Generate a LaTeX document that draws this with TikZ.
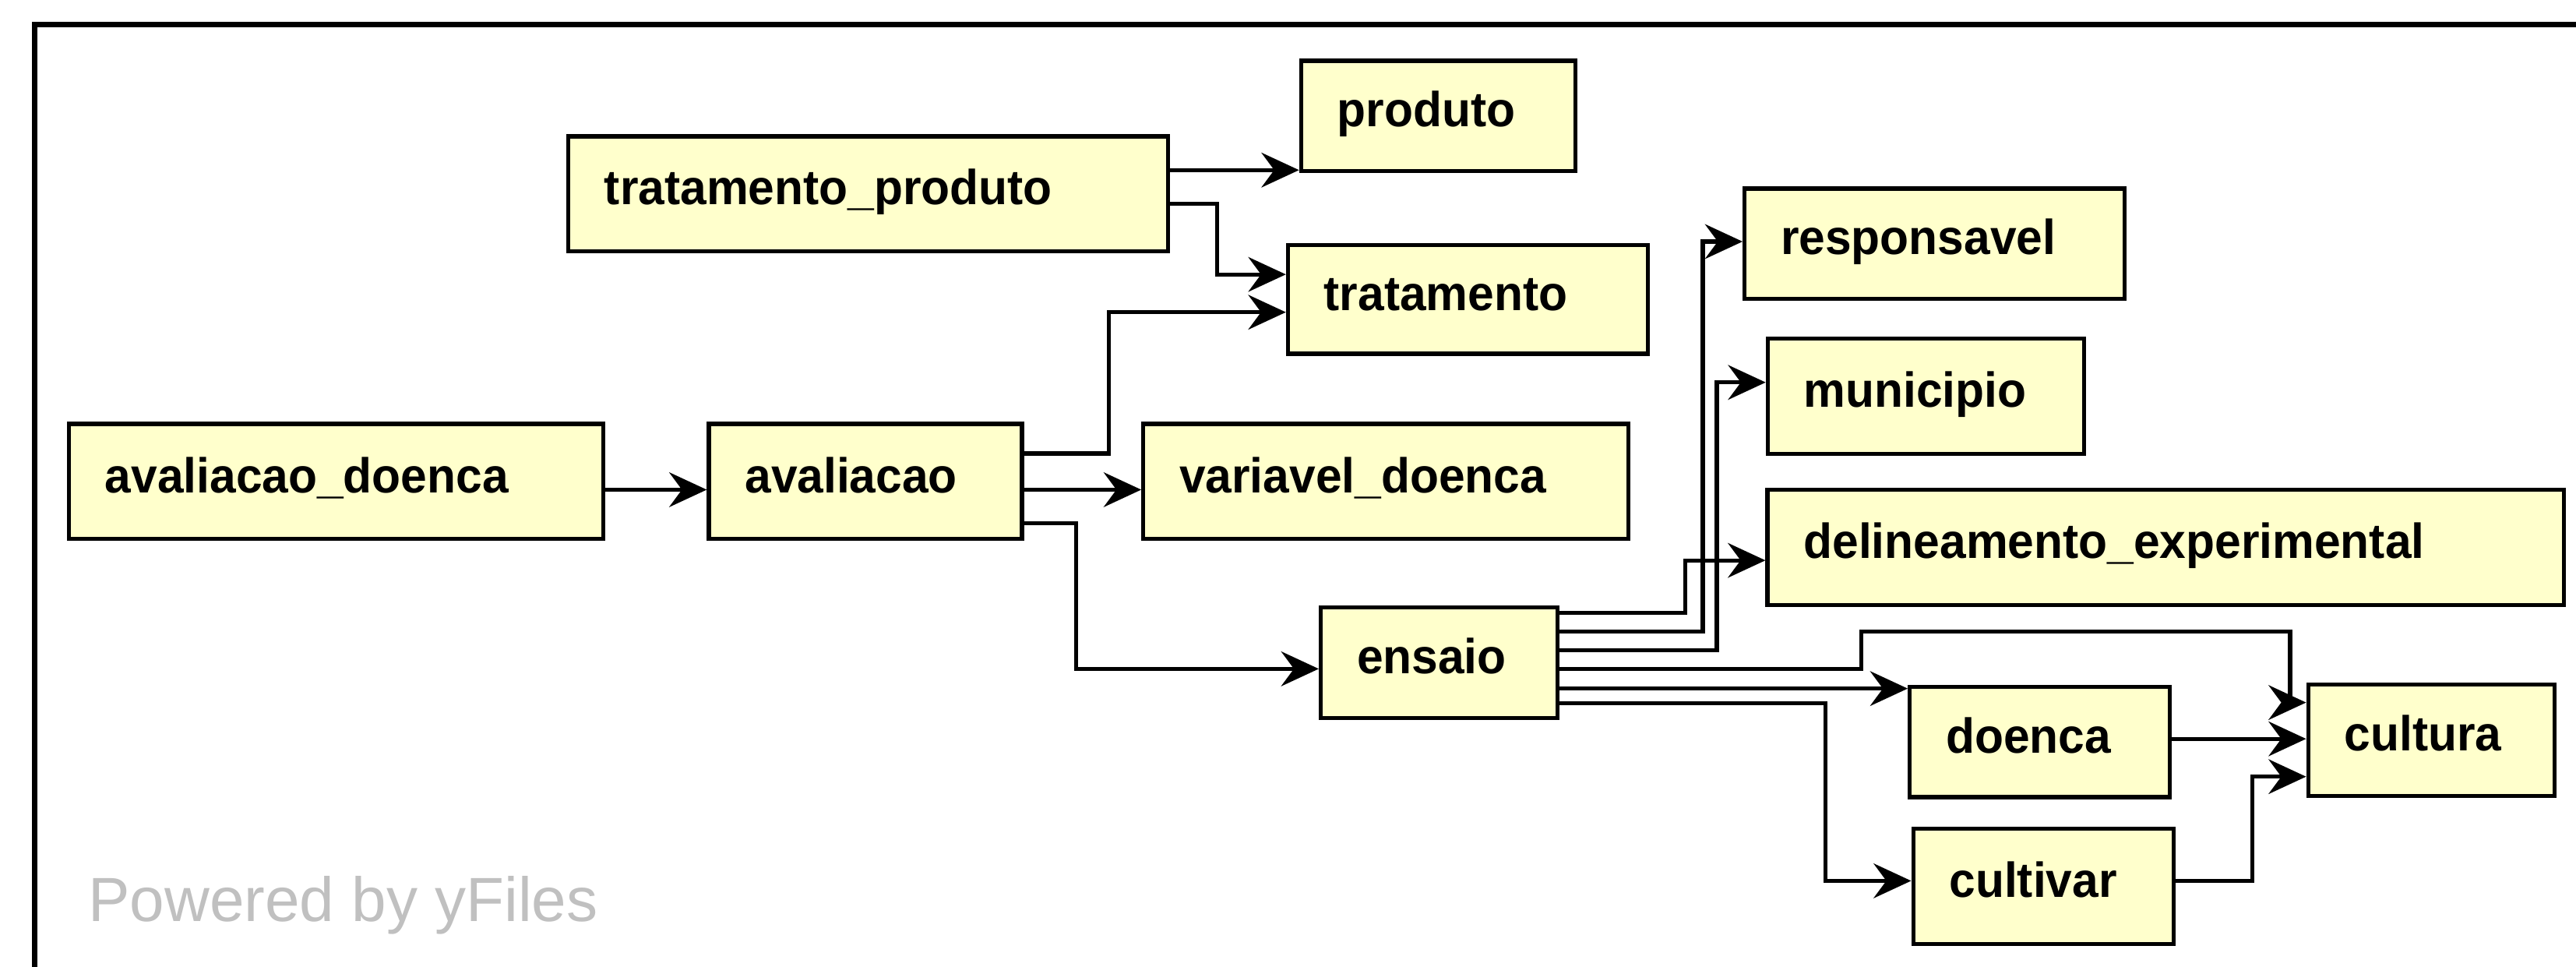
\documentclass[tikz,border=0pt]{standalone}
\usepackage{fontspec}
\setmainfont{Liberation Sans}
\newfontfamily\tblfont[FakeStretch=0.96]{Liberation Sans}
\usetikzlibrary{arrows.meta}
\definecolor{tblfill}{RGB}{255,255,204}
\definecolor{yfgray}{RGB}{192,192,192}
\begin{document}
\begin{tikzpicture}[x=0.01cm,y=-0.01cm,>={Stealth[length=6.5pt,width=6pt,inset=2.2pt]},
  tbl/.style={draw,fill=tblfill,line width=0.7pt,inner xsep=2.2mm,inner ysep=0pt,
    minimum height=6.8mm,text width=#1,align=left,text height=5.2pt,text depth=1.4pt,
    font=\tblfont\bfseries\fontsize{8.5}{10}\selectfont},
  conn/.style={->,line width=0.7pt}]
\useasboundingbox (0,0) rectangle (1568,588.4);
\clip (0,0) rectangle (1568,588.4);
% frame
\draw[line width=1pt] (21,620) -- (21,15) -- (1600,15);
% tables
\node[tbl=28.1mm,minimum height=7mm] (avd) at (204.5,293) {avaliacao\_doenca};
\node[tbl=14.65mm,minimum height=7mm] (aval) at (526.75,293) {avaliacao};
\node[tbl=25.1mm,minimum height=7mm] (vard) at (843.5,293) {variavel\_doenca};
\node[tbl=32.1mm,minimum height=7mm] (tp) at (528.5,118) {tratamento\_produto};
\node[tbl=12.3mm,minimum height=6.7mm] (prod) at (875.5,70.5) {produto};
\node[tbl=17.5mm,minimum height=6.6mm] (trat) at (893.5,182.3) {tratamento};
\node[tbl=18.7mm,minimum height=6.7mm] (resp) at (1177.5,148.3) {responsavel};
\node[tbl=14.85mm,minimum height=7mm] (mun) at (1172.3,241.2) {municipio};
\node[tbl=44.06mm,minimum height=7mm] (delin) at (1318.3,333) {delineamento\_experimental};
\node[tbl=10mm,minimum height=6.7mm] (ens) at (876,403.3) {ensaio};
\node[tbl=11.4mm,minimum height=6.7mm] (doe) at (1241.5,451.5) {doenca};
\node[tbl=10.6mm,minimum height=6.8mm] (cult) at (1480,450.4) {cultura};
\node[tbl=11.44mm,minimum height=7mm] (cvar) at (1243.8,539.3) {cultivar};
\node[anchor=base west,text=yfgray,inner sep=0pt,font=\fontsize{10.8}{12}\selectfont] (pby) at (53,560.6) {Powered by yFiles};
% links
\draw[conn] (avd.east |- 0,298) -- (aval.west |- 0,298);
\draw[conn] (aval.east |- 0,298) -- (vard.west |- 0,298);
\draw[conn] (aval.east |- 0,276) -| (675,190) -- (trat.west |- 0,190);
\draw[conn] (aval.east |- 0,318.5) -| (655,407) -- (ens.west |- 0,407);
\draw[conn] (tp.east |- 0,103.5) -- (prod.west |- 0,103.5);
\draw[conn] (tp.east |- 0,124) -| (741,167) -- (trat.west |- 0,167);
\draw[conn] (ens.east |- 0,373) -| (1026,341) -- (delin.west |- 0,341);
\draw[conn] (ens.east |- 0,384.4) -| (1036.5,147) -- (resp.west |- 0,147);
\draw[conn] (ens.east |- 0,395.6) -| (1045,232.7) -- (mun.west |- 0,232.7);
\draw[conn] (ens.east |- 0,407) -| (1133,384.5) -| (1394,427.5) -- (cult.west |- 0,427.5);
\draw[conn] (ens.east |- 0,419) -- (doe.west |- 0,419);
\draw[conn] (ens.east |- 0,428) -| (1111,536) -- (cvar.west |- 0,536);
\draw[conn] (doe.east |- 0,449.6) -- (cult.west |- 0,449.6);
\draw[conn] (cvar.east |- 0,536) -| (1371,472.6) -- (cult.west |- 0,472.6);
\end{tikzpicture}
\end{document}
